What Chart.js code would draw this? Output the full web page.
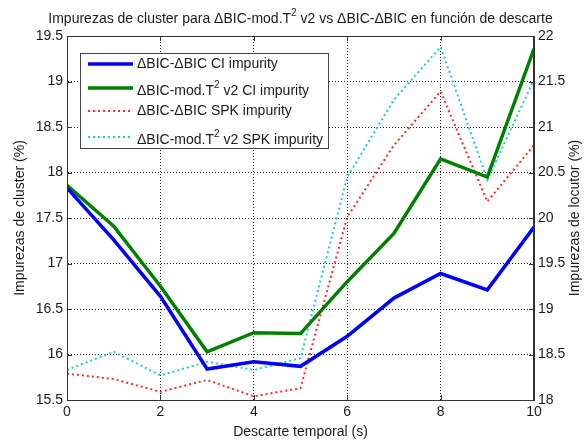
<!DOCTYPE html>
<html><head><meta charset="utf-8">
<script src="https://cdn.jsdelivr.net/npm/chart.js@4/dist/chart.umd.min.js"></script>
<style>html,body{margin:0;padding:0;background:#fff;overflow:hidden}</style>
</head><body>
<canvas id="c" width="585" height="441"></canvas>
<script>
const xValues = [0,1,2,3,4,5,6,7,8,9,10];
const ciBicBic = [17.83,17.26,16.64,15.84,15.92,15.87,16.20,16.62,16.89,16.71,17.40];
const ciBicMod = [17.86,17.41,16.75,16.03,16.24,16.23,16.80,17.33,18.15,17.95,19.36];
const spkBicBic = [18.29,18.23,18.09,18.22,18.04,18.13,20.01,20.80,21.39,20.18,20.80];
const spkBicMod = [18.33,18.53,18.27,18.42,18.33,18.46,20.45,21.30,21.88,20.42,21.52];
const seriesLabels = ['ΔBIC-ΔBIC CI impurity','ΔBIC-mod.T² v2 CI impurity','ΔBIC-ΔBIC SPK impurity','ΔBIC-mod.T² v2 SPK impurity'];
const titleText = 'Impurezas de cluster para ΔBIC-mod.T² v2 vs ΔBIC-ΔBIC en función de descarte';
const xTitle = 'Descarte temporal (s)';
const yLeftTitle = 'Impurezas de cluster (%)';
const yRightTitle = 'Impurezas de locutor (%)';

const FONT = '"Liberation Sans", Arial, sans-serif';
const FS = 14;
const TXT = '#1a1a1a';
const GRID = '#222';

function pts(arr){ return xValues.map((x,i)=>({x:x,y:arr[i]})); }
function fmt(v){ return String(Math.round(v*10)/10); }

function richWidth(ctx, text, fs){
  const parts = text.split('²');
  ctx.font = fs+'px '+FONT;
  let w = 0;
  parts.forEach((p,i)=>{ w += ctx.measureText(p).width; });
  ctx.font = Math.round(fs*0.72)+'px '+FONT;
  w += ctx.measureText('2').width*(parts.length-1);
  return w;
}
function drawRich(ctx, text, x, y, align, fs){
  const w = richWidth(ctx, text, fs);
  let cx = align==='center' ? x - w/2 : x;
  const parts = text.split('²');
  ctx.textBaseline = 'middle';
  ctx.textAlign = 'left';
  ctx.fillStyle = TXT;
  parts.forEach((p,i)=>{
    ctx.font = fs+'px '+FONT;
    ctx.fillText(p, cx, y);
    cx += ctx.measureText(p).width;
    if(i<parts.length-1){
      ctx.font = Math.round(fs*0.72)+'px '+FONT;
      ctx.fillText('2', cx, y - fs*0.42);
      cx += ctx.measureText('2').width;
    }
  });
}

const decor = {
  id:'decor',
  afterDraw(chart){
    const ctx = chart.ctx;
    const a = chart.chartArea;
    const xs = chart.scales.x, yl = chart.scales.y, yr = chart.scales.y2;
    ctx.save();
    ctx.strokeStyle = '#333'; ctx.lineWidth = 1;
    ctx.strokeRect(a.left+0.5, a.top+0.5, a.right-a.left-1, a.bottom-a.top);
    ctx.beginPath();
    xs.ticks.forEach(t=>{ const p = Math.round(xs.getPixelForValue(t.value))+0.5;
      ctx.moveTo(p,a.bottom); ctx.lineTo(p,a.bottom-5); ctx.moveTo(p,a.top); ctx.lineTo(p,a.top+5); });
    yl.ticks.forEach(t=>{ const p = Math.round(yl.getPixelForValue(t.value))+0.5;
      ctx.moveTo(a.left,p); ctx.lineTo(a.left+5,p); });
    yr.ticks.forEach(t=>{ const p = Math.round(yr.getPixelForValue(t.value))+0.5;
      ctx.moveTo(a.right,p); ctx.lineTo(a.right-5,p); });
    ctx.stroke();
    drawRich(ctx, titleText, (a.left+a.right)/2, 19, 'center', FS);
    drawRich(ctx, xTitle, (a.left+a.right)/2, 432, 'center', FS);
    const cy = (a.top+a.bottom)/2;
    ctx.save(); ctx.translate(20, cy); ctx.rotate(-Math.PI/2);
    drawRich(ctx, yLeftTitle, 0, 0, 'center', FS); ctx.restore();
    ctx.save(); ctx.translate(575, cy); ctx.rotate(-Math.PI/2);
    drawRich(ctx, yRightTitle, 0, 0, 'center', FS); ctx.restore();
    const L = 80, T = 53, W = 248, H = 95;
    ctx.fillStyle = '#fff'; ctx.fillRect(L, T, W, H);
    ctx.strokeStyle = '#444'; ctx.lineWidth = 1;
    ctx.strokeRect(L+0.5, T+0.5, W, H);
    const rowsY = [64, 88, 111, 137];
    chart.data.datasets.forEach((ds,i)=>{
      const y = rowsY[i];
      ctx.save();
      ctx.strokeStyle = ds.borderColor; ctx.lineWidth = ds.borderWidth;
      ctx.setLineDash(ds.borderDash || []);
      ctx.beginPath(); ctx.moveTo(88, y); ctx.lineTo(133, y); ctx.stroke();
      ctx.restore();
      const ty = ds.label.indexOf('²')>=0 ? y+3 : y;
      drawRich(ctx, ds.label, 137, ty, 'left', FS);
    });
    ctx.restore();
  }
};

new Chart(document.getElementById('c'), {
  type:'line',
  data:{ datasets:[
    {label:seriesLabels[0], data:pts(ciBicBic), yAxisID:'y', borderColor:'#0000ff', borderWidth:3.5},
    {label:seriesLabels[1], data:pts(ciBicMod), yAxisID:'y', borderColor:'#008000', borderWidth:3.5},
    {label:seriesLabels[2], data:pts(spkBicBic), yAxisID:'y2', borderColor:'#ff2a2a', borderWidth:2, borderDash:[2,3]},
    {label:seriesLabels[3], data:pts(spkBicMod), yAxisID:'y2', borderColor:'#22cccc', borderWidth:2, borderDash:[2,3]}
  ]},
  options:{
    responsive:false, animation:false, devicePixelRatio:1,
    layout:{padding:{top:36,left:0,right:0,bottom:0}},
    elements:{point:{radius:0}, line:{tension:0}},
    plugins:{legend:{display:false}, title:{display:false}, tooltip:{enabled:false}},
    scales:{
      x:{type:'linear', min:0, max:10,
        ticks:{stepSize:2, color:TXT, font:{family:FONT,size:FS}, padding:4, maxRotation:0, callback:fmt},
        grid:{display:true, drawOnChartArea:true, color:GRID, lineWidth:1, drawTicks:false},
        border:{display:true, color:'#333', dash:[1,2]},
        afterFit(s){ s.height = 41; }
      },
      y:{type:'linear', position:'left', min:15.5, max:19.5,
        ticks:{stepSize:0.5, color:TXT, font:{family:FONT,size:FS}, padding:4, callback:fmt},
        grid:{display:true, drawOnChartArea:true, color:GRID, lineWidth:1, drawTicks:false},
        border:{display:true, color:'#333', dash:[1,2]},
        afterFit(s){ s.width = 67; }
      },
      y2:{type:'linear', position:'right', min:18, max:22,
        ticks:{stepSize:0.5, color:TXT, font:{family:FONT,size:FS}, padding:4, callback:fmt},
        grid:{display:false, drawTicks:false},
        border:{display:true, color:'#333'},
        afterFit(s){ s.width = 51; }
      }
    }
  },
  plugins:[decor]
});
</script>
</body></html>
